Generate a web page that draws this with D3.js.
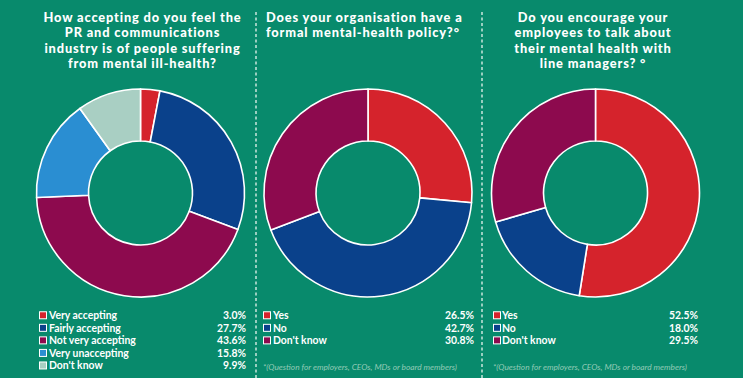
<!DOCTYPE html>
<html><head><meta charset="utf-8">
<script src="https://cdn.jsdelivr.net/npm/d3@7"></script>
<style>
html,body{margin:0;padding:0;background:#088a6c;}
svg{display:block;}
</style></head>
<body>
<svg id="chart" width="743" height="378"></svg>
<script>
// ---- data ----
const titles1 = ["How accepting do you feel the", "PR and communications", "industry is of people suffering", "from mental ill-health?"];
const titles2 = ["Does your organisation have a", "formal mental-health policy?°"];
const titles3 = ["Do you encourage your", "employees to talk about", "their mental health with", "line managers? °"];

const labels1 = ["Very accepting", "Fairly accepting", "Not very accepting", "Very unaccepting", "Don't know"];
const values1 = [3.0, 27.7, 43.6, 15.8, 9.9];
const labels2 = ["Yes", "No", "Don't know"];
const values2 = [26.5, 42.7, 30.8];
const labels3 = ["Yes", "No", "Don't know"];
const values3 = [52.5, 18.0, 29.5];
const footnote = "*(Question for employers, CEOs, MDs or board members)";

const colors1 = ["#d5232c", "#0a418b", "#8d0a4e", "#2a8ed2", "#a9cfc3"];
const colors2 = ["#d5232c", "#0a418b", "#8d0a4e"];

// ---- layout ----
const svg = d3.select("#chart");
svg.append("rect").attr("width",743).attr("height",378).attr("fill","#088a6c");

const panels = [
  {titles: titles1, labels: labels1, values: values1, colors: colors1, cx: 140.5, tx: 142.5, anchor: "middle", sq: 39, lx: 49, vx: 246, foot: false},
  {titles: titles2, labels: labels2, values: values2, colors: colors2, cx: 368, tx: 266, anchor: "start", sq: 263, lx: 273, vx: 474, foot: true},
  {titles: titles3, labels: labels3, values: values3, colors: colors2, cx: 595.5, tx: 593, anchor: "middle", sq: 493, lx: 502, vx: 698, foot: true}
];
const cy = 193, rOut = 104, rIn = 52;
const font = "Lato, 'Open Sans', sans-serif";

// dashed separators
[256, 482].forEach(x => {
  svg.append("line").attr("x1",x).attr("x2",x).attr("y1",12).attr("y2",378)
    .attr("stroke","#e8f4ef").attr("stroke-width",1.3).attr("stroke-dasharray","3,2.5");
});

const pie = d3.pie().sort(null).value(d => d);
const arc = d3.arc().innerRadius(rIn).outerRadius(rOut);

panels.forEach(p => {
  // title
  const t = svg.append("text").attr("font-family",font).attr("font-weight",900)
    .attr("font-size",12.8).attr("fill","#fff").attr("text-anchor",p.anchor)
    .attr("letter-spacing",0.85);
  p.titles.forEach((s,i) => {
    t.append("tspan").attr("x",p.tx).attr("y",22 + i*15.4).text(s);
  });

  // donut
  const g = svg.append("g").attr("transform",`translate(${p.cx},${cy})`);
  g.selectAll("path").data(pie(p.values)).join("path")
    .attr("d",arc).attr("fill",(d,i) => p.colors[i])
    .attr("stroke","#fff").attr("stroke-width",1.6).attr("stroke-linejoin","round");

  // legend
  const y = d3.scaleBand().domain(p.labels).range([309, 309 + 12.55*p.labels.length]);
  const lg = svg.append("g");
  p.labels.forEach((lab,i) => {
    const yc = y(lab) + y.bandwidth()/2;
    lg.append("rect").attr("x",p.sq+0.5).attr("y",yc-3.5).attr("width",7).attr("height",7)
      .attr("fill",p.colors[i]).attr("stroke","#fff").attr("stroke-width",1);
    lg.append("text").attr("x",p.lx).attr("y",yc).attr("dy","0.36em")
      .attr("font-family",font).attr("font-weight",700).attr("font-size",10.4)
      .attr("fill","#fff").text(lab);
    lg.append("text").attr("x",p.vx).attr("y",yc).attr("dy","0.36em").attr("text-anchor","end")
      .attr("font-family",font).attr("font-weight",700).attr("font-size",10.4)
      .attr("fill","#fff").text(d3.format(".1f")(p.values[i]) + "%");
  });

  if (p.foot) {
    svg.append("text").attr("x",p.sq).attr("y",370)
      .attr("font-family",font).attr("font-style","italic").attr("font-size",8.3)
      .attr("fill","#93cbb7").text(footnote);
  }
});
</script>
</body></html>
